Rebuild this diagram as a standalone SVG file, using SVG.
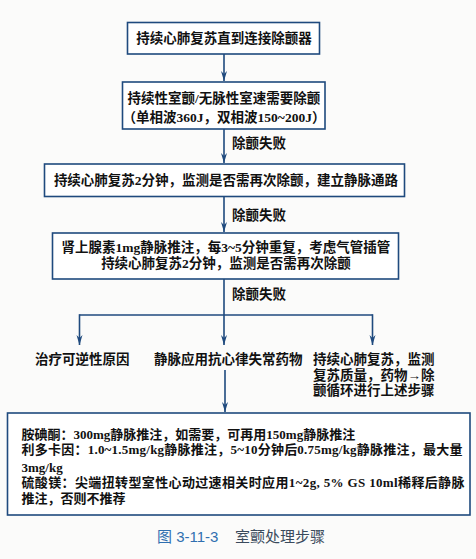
<svg xmlns="http://www.w3.org/2000/svg" width="476" height="559" viewBox="0 0 476 559">
<style>
.box{fill:#ffffff;stroke:#1f4a7e;stroke-width:1.6}
.t{font-family:"Liberation Serif","Noto Sans CJK SC",serif;font-size:13.5px;fill:#111;font-weight:bold}
.s{font-family:"Liberation Serif","Noto Sans CJK SC",serif;font-size:13px;fill:#111;font-weight:bold}
.c{stroke:#1f4a7e;stroke-width:1.6;fill:none}
.cap{font-family:"Liberation Sans","Noto Sans CJK SC",sans-serif;font-size:15px}
</style>
<defs>
<marker id="ah" markerUnits="userSpaceOnUse" markerWidth="11" markerHeight="8" refX="10" refY="4" orient="auto" viewBox="0 0 11 8">
<path d="M0,1 L3,4 L0,7 L10,4 Z" fill="#1f4a7e"/>
</marker>
</defs>
<rect width="476" height="559" fill="#fbfbfa"/>
<g id="connectors">
<path class="c" d="M224,54 V81" marker-end="url(#ah)"/>
<path class="c" d="M224,129 V163" marker-end="url(#ah)"/>
<path class="c" d="M224,197 V232" marker-end="url(#ah)"/>
<path class="c" d="M224,279 V315"/>
<path class="c" d="M79.5,315 H372.5"/>
<path class="c" d="M224,315 V345" marker-end="url(#ah)"/>
<path class="c" d="M79.5,314.2 V345" marker-end="url(#ah)"/>
<path class="c" d="M372.5,314.2 V345" marker-end="url(#ah)"/>
<path class="c" d="M225,370 V412" marker-end="url(#ah)"/>
<text class="t" x="232" y="148">除颤失败</text>
<text class="t" x="232" y="220">除颤失败</text>
<text class="t" x="232" y="299">除颤失败</text>
</g>
<g id="n1">
<rect class="box" x="127.5" y="22.5" width="192" height="31.5"/>
<text class="t" x="224" y="43" text-anchor="middle">持续心肺复苏直到连接除颤器</text>
</g>
<g id="n2">
<rect class="box" x="122.5" y="82" width="202.5" height="47"/>
<text class="t" x="224" y="103" text-anchor="middle">持续性室颤/无脉性室速需要除颤</text>
<text class="t" x="224" y="122" text-anchor="middle">（单相波360J，双相波150~200J）</text>
</g>
<g id="n3">
<rect class="box" x="44.5" y="164" width="360" height="32.5"/>
<text class="t" x="226" y="185" text-anchor="middle">持续心肺复苏2分钟，监测是否需再次除颤，建立静脉通路</text>
</g>
<g id="n4">
<rect class="box" x="52.5" y="233" width="346" height="46"/>
<text class="t" x="226" y="252" text-anchor="middle">肾上腺素1mg静脉推注，每3~5分钟重复，考虑气管插管</text>
<text class="t" x="226" y="268" text-anchor="middle">持续心肺复苏2分钟，监测是否需再次除颤</text>
</g>
<g id="n5">
<text class="t" x="35" y="364">治疗可逆性原因</text>
</g>
<g id="n6">
<text class="t" x="154" y="364">静脉应用抗心律失常药物</text>
</g>
<g id="n7">
<text class="t" x="313" y="364">持续心肺复苏，监测</text>
<text class="t" x="313" y="380">复苏质量，药物→除</text>
<text class="t" x="313" y="395">颤循环进行上述步骤</text>
</g>
<g id="n8">
<rect class="box" x="7.5" y="413" width="462.5" height="102"/>
<text class="s" x="21.5" y="439">胺碘酮：300mg静脉推注，如需要，可再用150mg静脉推注</text>
<text class="s" x="21.5" y="454" textLength="441" lengthAdjust="spacing">利多卡因：1.0~1.5mg/kg静脉推注，5~10分钟后0.75mg/kg静脉推注，最大量</text>
<text class="s" x="21.5" y="472">3mg/kg</text>
<text class="s" x="21.5" y="487" textLength="443" lengthAdjust="spacing">硫酸镁：尖端扭转型室性心动过速相关时应用1~2g, 5% GS 10ml稀释后静脉</text>
<text class="s" x="21.5" y="503">推注，否则不推荐</text>
</g>
<g id="caption">
<text class="cap" x="157" y="542" fill="#2f6fb0">图 3-11-3</text>
<text class="cap" x="235" y="542" fill="#3a4a5c">室颤处理步骤</text>
</g>
</svg>
